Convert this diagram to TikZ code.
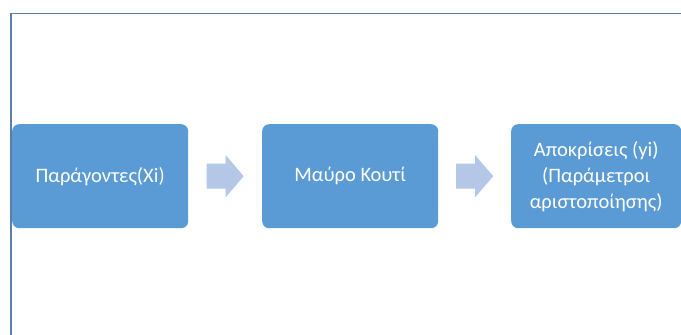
\documentclass[tikz,border=0pt]{standalone}
\usepackage{fontspec}
\setmainfont{Carlito}
\usetikzlibrary{calc}
\definecolor{boxblue}{HTML}{5B9BD5}
\definecolor{arrowblue}{HTML}{B4C7E7}
\definecolor{framecol}{HTML}{5B7FA6}
\begin{document}
\begin{tikzpicture}[x=1pt,y=1pt,
  stepbox/.style={fill=boxblue, rounded corners=7pt, minimum width=176pt, minimum height=104pt,
    text=white, align=center, font=\fontsize{20.5}{26}\selectfont, inner sep=0pt, anchor=north west},
  flowarrow/.style={fill=arrowblue}]
\useasboundingbox (0,0) rectangle (681,-335);
% frame lines
\draw[framecol, line width=1pt] (9.5,-13.5) -- (681,-13.5);
\draw[framecol, line width=2pt] (10.5,-13) -- (10.5,-335);
% process steps
\node[stepbox] (factors) at (12,-124) {Παράγοντες(Xi)};
\node[stepbox] (blackbox) at (262,-124) {Μαύρο Κουτί};
\node[stepbox, minimum width=170pt] (responses) at (511,-124) {Αποκρίσεις (yi)\\(Παράμετροι\\αριστοποίησης)};
% block arrows between steps
\coordinate (m1) at ($(factors.east)!0.5!(blackbox.west)$);
\coordinate (m2) at ($(blackbox.east)!0.5!(responses.west)$);
\foreach \m in {m1,m2}{
  \fill[flowarrow] ($(\m)+(-18.5,12.5)$) -- ($(\m)+(0.5,12.5)$) -- ($(\m)+(0.5,21)$)
    -- ($(\m)+(18.5,0)$) -- ($(\m)+(0.5,-21)$) -- ($(\m)+(0.5,-12.5)$)
    -- ($(\m)+(-18.5,-12.5)$) -- cycle;
}
\end{tikzpicture}
\end{document}
